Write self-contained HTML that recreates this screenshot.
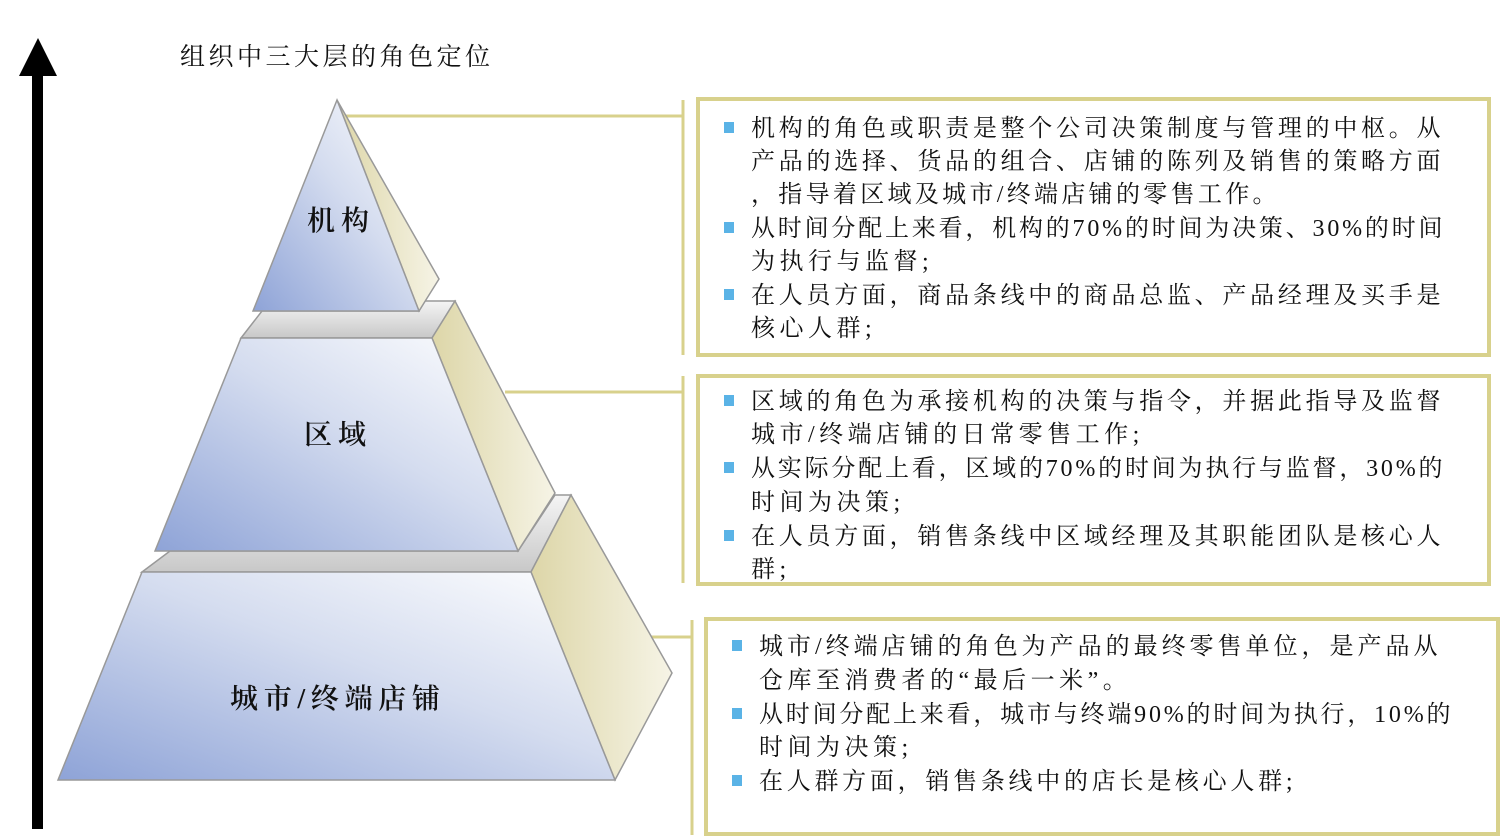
<!DOCTYPE html>
<html><head><meta charset="utf-8"><style>
html,body{margin:0;padding:0;background:#fff;}
svg{display:block;}
text{font-family:"Liberation Serif","Noto Serif CJK SC",serif;fill:#111;}
.t{font-size:24px;letter-spacing:4.5px;}
.lab{font-size:28px;font-weight:600;}
</style></head><body>
<svg width="1500" height="837" viewBox="0 0 1500 837" xmlns="http://www.w3.org/2000/svg">
<defs>
<linearGradient id="fr" x1="0" y1="1" x2="1" y2="0">
<stop offset="0" stop-color="#8ea3d7"/><stop offset="0.55" stop-color="#d4dcef"/><stop offset="1" stop-color="#ffffff"/>
</linearGradient>
<linearGradient id="sd" x1="0" y1="0" x2="1" y2="0">
<stop offset="0" stop-color="#ddd6a8"/><stop offset="1" stop-color="#f6f4e6"/>
</linearGradient>
<linearGradient id="lg" x1="0" y1="1" x2="0" y2="0">
<stop offset="0" stop-color="#c8c8c8"/><stop offset="1" stop-color="#f5f5f5"/>
</linearGradient>
</defs>
<rect x="32" y="72" width="11" height="757" fill="#000"/>
<polygon points="38,38 57,76 19,76" fill="#000"/>
<text x="180" y="65" textLength="310" lengthAdjust="spacing" style="font-size:25px">组织中三大层的角色定位</text>

<g stroke="#d8d18c" stroke-width="3" fill="none">
<line x1="345" y1="116" x2="683" y2="116"/>
<line x1="683" y1="100" x2="683" y2="355"/>
<line x1="505" y1="392" x2="683" y2="392"/>
<line x1="683" y1="376" x2="683" y2="583"/>
<line x1="650" y1="637" x2="692" y2="637"/>
<line x1="692" y1="620" x2="692" y2="835"/>
</g>

<g stroke="#999" stroke-width="1.5">
<polygon points="142,572 170,551 518,551 555,495 571,495 531,572" fill="url(#lg)"/>
<polygon points="531,572 571,495 672,673 615,780" fill="url(#sd)"/>
<polygon points="142,572 531,572 615,780 58,780" fill="url(#fr)"/>
</g>
<g stroke="#999" stroke-width="1.5">
<polygon points="241,338 262,311 419,311 425,301 455,301 432,338" fill="url(#lg)"/>
<polygon points="432,338 455,301 555,493 518,551" fill="url(#sd)"/>
<polygon points="241,338 432,338 518,551 155,551" fill="url(#fr)"/>
</g>
<g stroke="#999" stroke-width="1.5">
<polygon points="337,100 439,279 419,311" fill="url(#sd)"/>
<polygon points="337,100 419,311 253,311" fill="url(#fr)"/>
</g>
<text class="lab" x="307" y="230" textLength="62" lengthAdjust="spacing">机构</text>
<text class="lab" x="304" y="444" textLength="62" lengthAdjust="spacing">区域</text>
<text class="lab" x="230" y="708" textLength="210" lengthAdjust="spacing">城市/终端店铺</text>

<g fill="#fff" stroke="#d8d18c" stroke-width="4">
<rect x="698" y="99" width="791" height="256"/>
<rect x="698" y="376" width="791" height="208"/>
<rect x="706" y="619" width="792" height="215"/>
</g>
<g fill="#5ab3e6">
<rect x="724" y="122" width="10" height="11"/>
<rect x="724" y="222" width="10" height="11"/>
<rect x="724" y="289" width="10" height="11"/>
<rect x="724" y="395" width="10" height="11"/>
<rect x="724" y="462" width="10" height="11"/>
<rect x="724" y="530" width="10" height="11"/>
<rect x="732" y="640" width="10" height="11"/>
<rect x="732" y="708" width="10" height="11"/>
<rect x="732" y="775" width="10" height="11"/>
</g>
<g class="t">
<text x="751" y="136" textLength="694" lengthAdjust="spacing">机构的角色或职责是整个公司决策制度与管理的中枢。从</text>
<text x="751" y="169" textLength="694" lengthAdjust="spacing">产品的选择、货品的组合、店铺的陈列及销售的策略方面</text>
<text x="751" y="202" textLength="530" lengthAdjust="spacing">，指导着区域及城市/终端店铺的零售工作。</text>
<text x="751" y="236" textLength="696" lengthAdjust="spacing">从时间分配上来看，机构的70%的时间为决策、30%的时间</text>
<text x="751" y="269">为执行与监督;</text>
<text x="751" y="303" textLength="694" lengthAdjust="spacing">在人员方面，商品条线中的商品总监、产品经理及买手是</text>
<text x="751" y="336">核心人群;</text>

<text x="751" y="409" textLength="694" lengthAdjust="spacing">区域的角色为承接机构的决策与指令，并据此指导及监督</text>
<text x="751" y="442">城市/终端店铺的日常零售工作;</text>
<text x="751" y="476" textLength="696" lengthAdjust="spacing">从实际分配上看，区域的70%的时间为执行与监督，30%的</text>
<text x="751" y="510">时间为决策;</text>
<text x="751" y="544" textLength="694" lengthAdjust="spacing">在人员方面，销售条线中区域经理及其职能团队是核心人</text>
<text x="751" y="577">群;</text>

<text x="759" y="654" textLength="683" lengthAdjust="spacing">城市/终端店铺的角色为产品的最终零售单位，是产品从</text>
<text x="759" y="688">仓库至消费者的“最后一米”。</text>
<text x="759" y="722" textLength="696" lengthAdjust="spacing">从时间分配上来看，城市与终端90%的时间为执行，10%的</text>
<text x="759" y="755">时间为决策;</text>
<text x="759" y="789" textLength="538" lengthAdjust="spacing">在人群方面，销售条线中的店长是核心人群;</text>
</g>
</svg>
</body></html>
